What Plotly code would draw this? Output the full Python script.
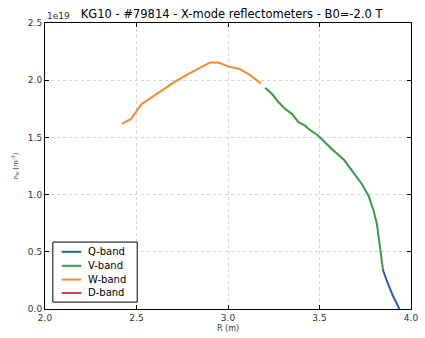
import plotly.graph_objects as go

# Data (density in units of 1e19 m^-3)
w_R = [2.420, 2.470, 2.527, 2.581, 2.653, 2.706, 2.777, 2.849, 2.902, 2.947, 3.001, 3.063, 3.117, 3.180]
w_ne = [1.618, 1.661, 1.790, 1.848, 1.926, 1.983, 2.049, 2.107, 2.155, 2.155, 2.121, 2.098, 2.049, 1.972]

v_R = [3.203, 3.242, 3.278, 3.314, 3.350, 3.385, 3.421, 3.439, 3.492, 3.564, 3.635, 3.689, 3.734,
       3.769, 3.787, 3.796, 3.814, 3.823, 3.836, 3.841, 3.846]
v_ne = [1.934, 1.877, 1.805, 1.747, 1.704, 1.633, 1.603, 1.575, 1.517, 1.403, 1.302, 1.187, 1.086,
        0.986, 0.900, 0.857, 0.741, 0.627, 0.512, 0.426, 0.353]

q_R = [3.846, 3.850, 3.877, 3.903, 3.930, 3.936]
q_ne = [0.353, 0.325, 0.210, 0.109, 0.023, 0.0]

d_R = []
d_ne = []

band_names = ["Q-band", "V-band", "W-band", "D-band"]
x_ticks = [2.0, 2.5, 3.0, 3.5, 4.0]
y_ticks = [0.0, 0.5, 1.0, 1.5, 2.0, 2.5]

colors = {"Q-band": "#2c5ea8", "V-band": "#3a9a43", "W-band": "#f5892f", "D-band": "#d6404e"}
series = {"Q-band": (q_R, q_ne), "V-band": (v_R, v_ne), "W-band": (w_R, w_ne), "D-band": (d_R, d_ne)}

fig = go.Figure()
for name in band_names:
    xs, ys = series[name]
    fig.add_trace(go.Scatter(x=xs, y=ys, mode="lines", name=name, showlegend=False,
                             line=dict(color=colors[name], width=2)))

axis_common = dict(showline=True, linecolor="black", linewidth=1, mirror="ticks",
                   ticks="inside", ticklen=4, tickcolor="black",
                   showgrid=True, gridcolor="#d4d4d4", griddash="dot", gridwidth=1,
                   zeroline=False, tickfont=dict(family="DejaVu Sans", size=9, color="#333333"))

fig.update_layout(
    width=425, height=338,
    margin=dict(l=45, r=7, t=23, b=25),
    paper_bgcolor="white", plot_bgcolor="white",
    title=dict(text="KG10 - #79814 - X-mode reflectometers - B0=-2.0 T",
               x=0.545, xanchor="center", y=0.96, yanchor="middle",
               font=dict(family="DejaVu Sans", size=11.5, color="black")),
    xaxis=dict(range=[2.0, 4.0], tickvals=x_ticks, ticktext=[f"{v:.1f}" for v in x_ticks],
               title=dict(text="R (m)", font=dict(family="DejaVu Sans", size=8, color="#333333"), standoff=3),
               **axis_common),
    yaxis=dict(range=[0.0, 2.5], tickvals=y_ticks, ticktext=[f"{v:.1f}" for v in y_ticks],
               title=dict(text="n<sub>e</sub> (m<sup>-3</sup>)", font=dict(family="DejaVu Sans", size=7, color="#333333"), standoff=8),
               **axis_common),
    showlegend=False,
)

# Custom compact legend (matplotlib style)
x0, x1 = 0.0214, 0.252
y0, y1 = 0.024, 0.234
fig.add_shape(type="rect", xref="paper", yref="paper", x0=x0, x1=x1, y0=y0, y1=y1,
              line=dict(color="black", width=1), fillcolor="white", layer="above")
item_y = [0.200, 0.151, 0.103, 0.056]
for name, yy in zip(band_names, item_y):
    fig.add_shape(type="line", xref="paper", yref="paper", x0=0.0456, x1=0.0992, y0=yy, y1=yy,
                  line=dict(color=colors[name], width=2), layer="above")
    fig.add_annotation(text=name, xref="paper", yref="paper", x=0.113, y=yy,
                       xanchor="left", yanchor="middle", showarrow=False,
                       font=dict(family="DejaVu Sans", size=10, color="black"))

fig.add_annotation(text="1e19", xref="paper", yref="paper", x=0.0, y=1.0,
                   xanchor="left", yanchor="bottom", showarrow=False,
                   font=dict(family="DejaVu Sans", size=9, color="#333333"))

fig.write_html("out.html")
